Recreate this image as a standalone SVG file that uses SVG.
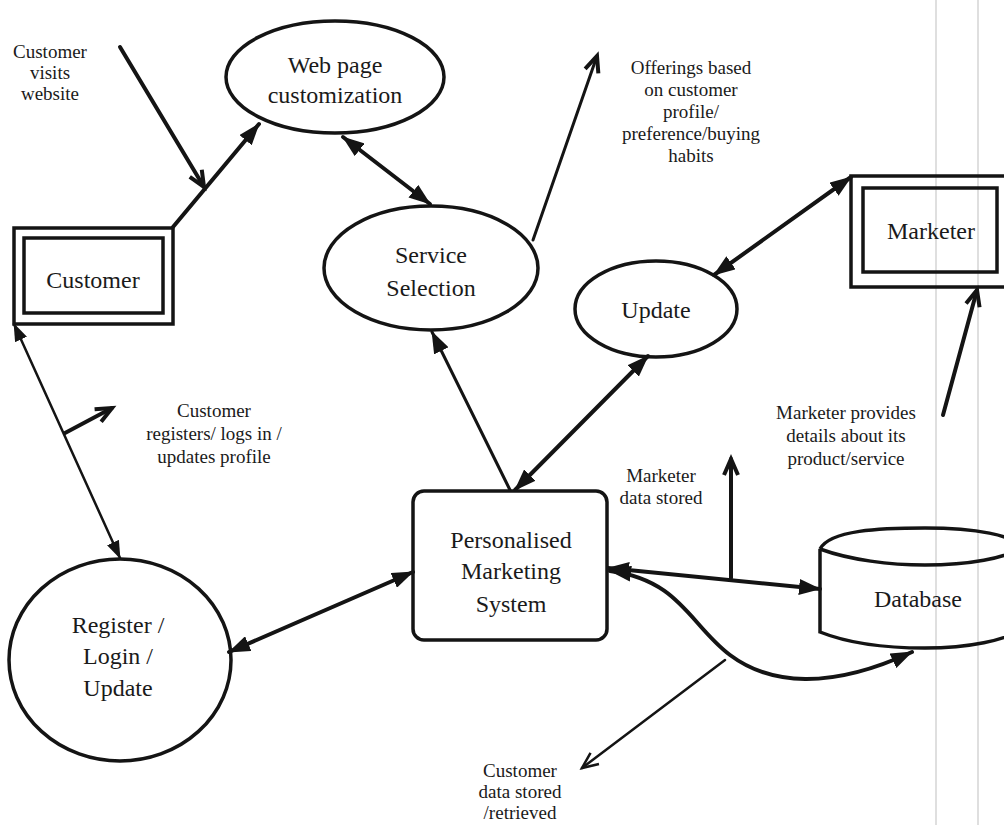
<svg xmlns="http://www.w3.org/2000/svg" width="1004" height="825" viewBox="0 0 1004 825">
  <style>
    .shape { fill: none; stroke: #141414; stroke-width: 3.5; }
    .node-text { font-family: "Liberation Serif", "Times New Roman", serif; font-size: 24px; fill: #1a1a1a; text-anchor: middle; }
    .label { font-family: "Liberation Serif", "Times New Roman", serif; font-size: 19px; fill: #1a1a1a; text-anchor: middle; }
    .flow { fill: none; stroke: #141414; stroke-width: 4; stroke-linecap: round; }
    .thin { stroke-width: 2.5; }
    .mid { stroke-width: 3; }
    .scanline { stroke: #d4d4d4; stroke-width: 1.5; }
  </style>
  <defs>
    <marker id="tri" viewBox="0 0 22 16" refX="21" refY="8" markerWidth="22" markerHeight="16" markerUnits="userSpaceOnUse" orient="auto-start-reverse">
      <path d="M0,0 L22,8 L0,16 Z" fill="#141414"/>
    </marker>
    <marker id="tri-sm" viewBox="0 0 18 13" refX="17" refY="6.5" markerWidth="18" markerHeight="13" markerUnits="userSpaceOnUse" orient="auto-start-reverse">
      <path d="M0,0 L18,6.5 L0,13 Z" fill="#141414"/>
    </marker>
    <marker id="vee" viewBox="0 0 20 16" refX="18" refY="8" markerWidth="20" markerHeight="16" markerUnits="userSpaceOnUse" orient="auto" overflow="visible">
      <path d="M2,1 L18,8 L2,15" fill="none" stroke="#141414" stroke-width="4" stroke-linejoin="miter"/>
    </marker>
    <marker id="vee-thin" viewBox="0 0 20 16" refX="18" refY="8" markerWidth="20" markerHeight="16" markerUnits="userSpaceOnUse" orient="auto" overflow="visible">
      <path d="M2,1 L18,8 L2,15" fill="none" stroke="#141414" stroke-width="2.5"/>
    </marker>
  </defs>

  <rect width="1004" height="825" fill="#ffffff"/>

  <!-- faint vertical rules near the right margin -->
  <line class="scanline" x1="936" y1="0" x2="936" y2="825"/>
  <line class="scanline" x1="978" y1="0" x2="978" y2="825"/>

  <!-- connectors -->
  <g id="connectors">
    <path class="flow" d="M173,227 L259,124" marker-end="url(#tri)"/>
    <path class="flow" d="M120,47 L204,187" marker-end="url(#vee)"/>
    <path class="flow" d="M343,137 L430,204" marker-start="url(#tri)" marker-end="url(#tri)"/>
    <path class="flow mid" d="M533,240 L597,56" marker-end="url(#vee)"/>
    <path class="flow thin" d="M14,324 L120,558" marker-start="url(#tri-sm)" marker-end="url(#tri-sm)"/>
    <path class="flow" d="M65,433 L112,408" marker-end="url(#vee)"/>
    <path class="flow" d="M229,652 L413,572" marker-start="url(#tri)" marker-end="url(#tri)"/>
    <path class="flow mid" d="M510,490 L432,332" marker-end="url(#tri)"/>
    <path class="flow" d="M515,490 L648,356" marker-start="url(#tri)" marker-end="url(#tri)"/>
    <path class="flow" d="M714,275 L851,177" marker-start="url(#tri)" marker-end="url(#tri)"/>
    <path class="flow" d="M943,415 L977,290" marker-end="url(#vee)"/>
    <path class="flow" d="M608,568 L820,589" marker-start="url(#tri)" marker-end="url(#tri)"/>
    <path class="flow" d="M731,578 L731,459" marker-end="url(#vee)"/>
    <path class="flow" d="M610,571 C680,580 690,625 730,655 S830,690 912,652" marker-start="url(#tri)" marker-end="url(#tri)"/>
    <path class="flow thin" d="M725,660 L582,768" marker-end="url(#vee-thin)"/>
  </g>

  <!-- external entity: Customer -->
  <g id="customer">
    <rect class="shape" x="14" y="228" width="159" height="96"/>
    <rect class="shape" x="24" y="238" width="139" height="75"/>
    <text class="node-text" x="93" y="288">Customer</text>
  </g>

  <!-- external entity: Marketer -->
  <g id="marketer">
    <rect class="shape" x="851" y="176" width="170" height="111"/>
    <rect class="shape" x="863" y="188" width="134" height="84"/>
    <text class="node-text" x="931" y="239">Marketer</text>
  </g>

  <!-- processes -->
  <g id="web-page">
    <ellipse class="shape" cx="335" cy="77" rx="109" ry="56"/>
    <text class="node-text" x="335" y="73">Web page</text>
    <text class="node-text" x="335" y="103">customization</text>
  </g>

  <g id="service-selection">
    <ellipse class="shape" cx="431" cy="268" rx="107" ry="62"/>
    <text class="node-text" x="431" y="263">Service</text>
    <text class="node-text" x="431" y="296">Selection</text>
  </g>

  <g id="update">
    <ellipse class="shape" cx="656" cy="309" rx="81" ry="48"/>
    <text class="node-text" x="656" y="318">Update</text>
  </g>

  <g id="register">
    <ellipse class="shape" cx="120" cy="660" rx="111" ry="101"/>
    <text class="node-text" x="118" y="633">Register /</text>
    <text class="node-text" x="118" y="664">Login /</text>
    <text class="node-text" x="118" y="696">Update</text>
  </g>

  <g id="pms">
    <rect class="shape" x="413" y="491" width="194" height="149" rx="11" ry="11"/>
    <text class="node-text" x="511" y="548">Personalised</text>
    <text class="node-text" x="511" y="579">Marketing</text>
    <text class="node-text" x="511" y="612">System</text>
  </g>

  <!-- data store: Database -->
  <g id="database">
    <path class="shape" d="M820,549 C830,530 880,528 925,528 C975,528 1015,535 1020,548"/>
    <path class="shape" d="M820,549 C850,560 890,565 925,565 C970,565 1005,558 1020,548"/>
    <path class="shape" d="M820,549 L820,632 C850,644 890,648 925,648 C970,648 1005,640 1020,630"/>
    <text class="node-text" x="918" y="607">Database</text>
  </g>

  <!-- flow labels -->
  <g id="labels">
    <text class="label" x="50" y="58">Customer</text>
    <text class="label" x="50" y="79">visits</text>
    <text class="label" x="50" y="100">website</text>

    <text class="label" x="691" y="74">Offerings based</text>
    <text class="label" x="691" y="96">on customer</text>
    <text class="label" x="691" y="118">profile/</text>
    <text class="label" x="691" y="140">preference/buying</text>
    <text class="label" x="691" y="162">habits</text>

    <text class="label" x="214" y="417">Customer</text>
    <text class="label" x="214" y="440">registers/ logs in /</text>
    <text class="label" x="214" y="463">updates profile</text>

    <text class="label" x="846" y="419">Marketer provides</text>
    <text class="label" x="846" y="442">details about its</text>
    <text class="label" x="846" y="465">product/service</text>

    <text class="label" x="661" y="482">Marketer</text>
    <text class="label" x="661" y="504">data stored</text>

    <text class="label" x="520" y="777">Customer</text>
    <text class="label" x="520" y="798">data stored</text>
    <text class="label" x="520" y="819">/retrieved</text>
  </g>
</svg>
